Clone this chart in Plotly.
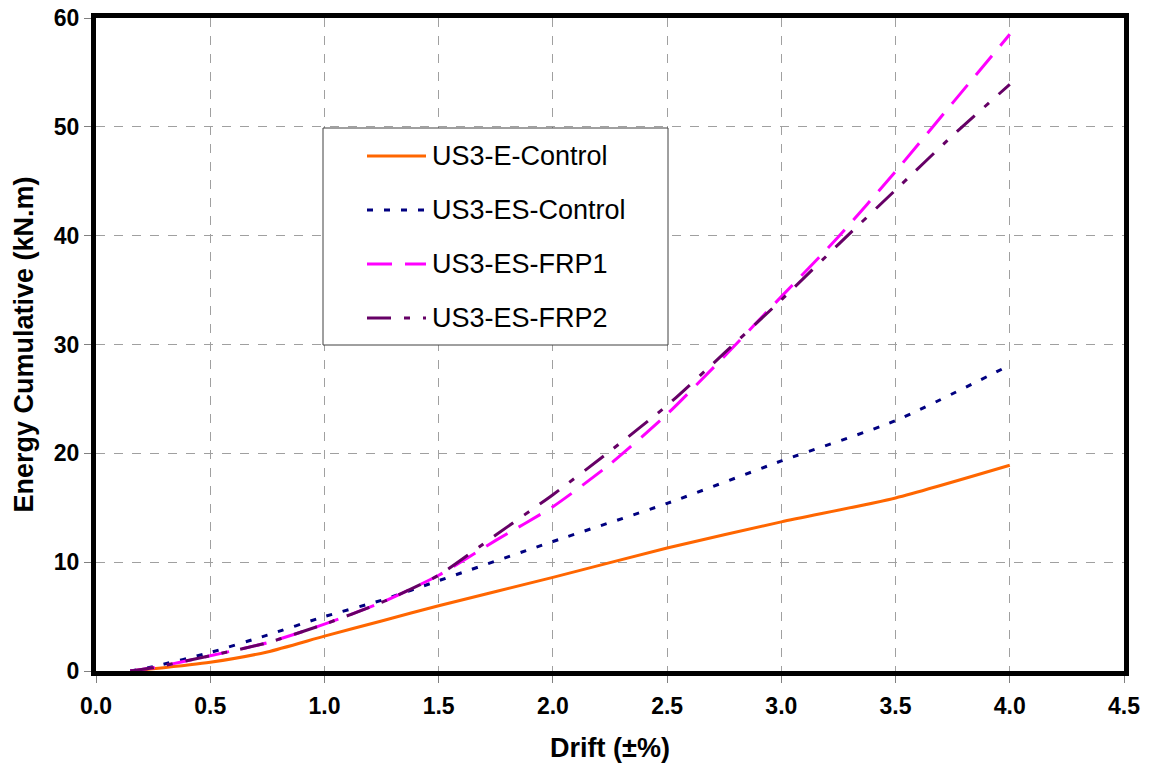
import plotly.graph_objects as go

# ---- data ----
drift_ctrl = [0.15, 0.25, 0.5, 0.75, 1.0, 1.25, 1.5, 2.0, 2.5, 3.0, 3.5, 4.0]
e_control = [0, 0.2, 0.8, 1.75, 3.2, 4.6, 6.0, 8.6, 11.3, 13.7, 15.9, 18.9]
es_control = [0, 0.4, 1.7, 3.3, 5.0, 6.5, 8.3, 11.9, 15.4, 19.3, 23.0, 28.1]

drift_frp = [0.15, 0.25, 0.5, 0.75, 1.0, 1.25, 1.5, 1.75, 2.0, 2.25, 2.5,
             2.75, 3.0, 3.25, 3.5, 3.75, 4.0]
es_frp1 = [0, 0.3, 1.4, 2.6, 4.3, 6.3, 8.8, 12.0, 15.1, 19.0, 23.6,
           28.9, 34.4, 39.9, 45.9, 52.2, 58.5]
es_frp2 = [0, 0.3, 1.4, 2.6, 4.3, 6.3, 8.8, 12.5, 16.2, 20.2, 24.4,
           29.2, 34.1, 39.2, 44.2, 49.2, 53.9]

names = ["US3-E-Control", "US3-ES-Control", "US3-ES-FRP1", "US3-ES-FRP2"]
x_ticks = [0.0, 0.5, 1.0, 1.5, 2.0, 2.5, 3.0, 3.5, 4.0, 4.5]
y_ticks = [0, 10, 20, 30, 40, 50, 60]

colors = ["#FF6600", "#000080", "#FF00FF", "#660066"]
dashes = ["solid", "6px,11px", "25px,13px", "24px,13px,6px,13px"]

FONT = "Liberation Sans, Arial, sans-serif"
W, H = 1153, 767
ML, MR, MT, MB = 96, 29, 18, 96
PW, PH = W - ML - MR, H - MT - MB


def px(x):
    return (x - ML) / PW


def py(y):
    return (H - MB - y) / PH


fig = go.Figure()
xs_list = [drift_ctrl, drift_ctrl, drift_frp, drift_frp]
ys_list = [e_control, es_control, es_frp1, es_frp2]
for i in range(4):
    fig.add_trace(go.Scatter(
        x=xs_list[i], y=ys_list[i], mode="lines", name=names[i],
        line=dict(color=colors[i], width=3, dash=dashes[i], shape="spline", smoothing=0.6),
        showlegend=False,
    ))

axis_common = dict(
    showline=True, linecolor="black", linewidth=5, mirror=True,
    showgrid=True, gridcolor="#A0A0A0", griddash="dash", gridwidth=1,
    ticks="outside", ticklen=7, tickcolor="#808080", tickwidth=1,
    zeroline=False, automargin=False,
    tickfont=dict(family=FONT, size=23, color="black", weight="bold"),
)

# custom legend box (decoration)
shapes = [dict(type="rect", xref="paper", yref="paper",
               x0=px(323), x1=px(668), y0=py(345), y1=py(128),
               line=dict(color="#404040", width=1), fillcolor="white", layer="above")]
annotations = []
row_y = [156, 210, 264, 318]
for i in range(4):
    shapes.append(dict(type="line", xref="paper", yref="paper",
                       x0=px(367), x1=px(426), y0=py(row_y[i]), y1=py(row_y[i]),
                       line=dict(color=colors[i], width=3, dash=dashes[i]), layer="above"))
    annotations.append(dict(xref="paper", yref="paper", x=px(430), y=py(row_y[i]),
                            xanchor="left", yanchor="middle", showarrow=False,
                            text=names[i], font=dict(family=FONT, size=27, color="black")))

fig.update_layout(
    width=W, height=H,
    margin=dict(l=ML, r=MR, t=MT, b=MB),
    paper_bgcolor="white", plot_bgcolor="white",
    font=dict(family=FONT, color="black"),
    xaxis=dict(range=[0, 4.5], tickvals=x_ticks,
               ticktext=[f"{v:.1f}" for v in x_ticks],
               ticklabelstandoff=3,
               title=dict(text="<b>Drift (±%)</b>", font=dict(family=FONT, size=27), standoff=22),
               **axis_common),
    yaxis=dict(range=[0, 60], tickvals=y_ticks,
               title=dict(text="<b>Energy Cumulative (kN.m)</b>", font=dict(family=FONT, size=27), standoff=14),
               **axis_common),
    shapes=shapes,
    annotations=annotations,
    showlegend=False,
)

fig.write_html("out.html", config={"displayModeBar": False},
               post_script="document.body.style.margin='0';")
